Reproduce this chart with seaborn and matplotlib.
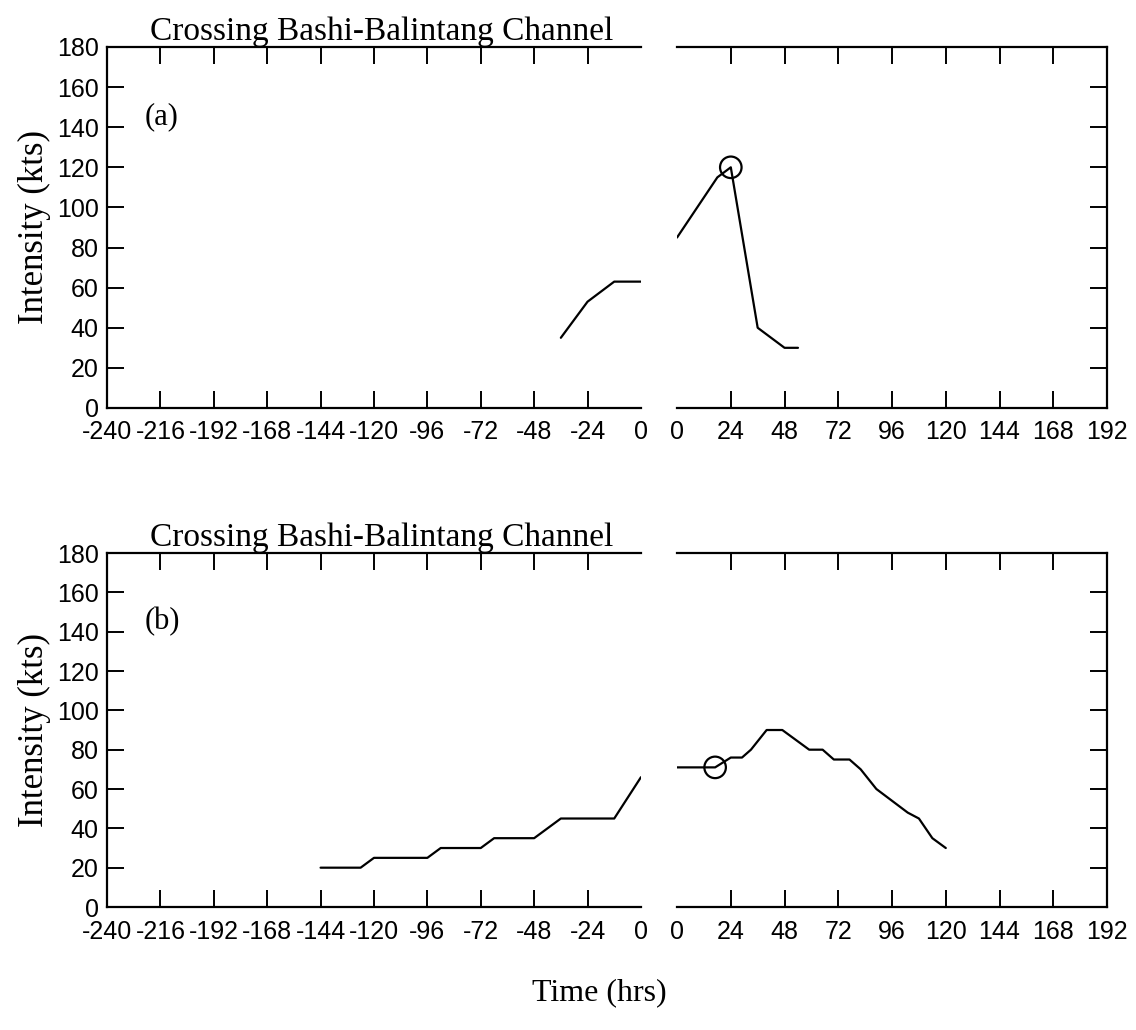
import matplotlib
matplotlib.use("Agg")
import matplotlib.pyplot as plt
import seaborn as sns

# ---- data ----
a_before_t = [-36, -24, -18, -12, -6, 0]
a_before_v = [35, 53, 58, 63, 63, 63]
a_after_t = [0, 6, 12, 18, 24, 36, 48, 54]
a_after_v = [85, 95, 105, 115, 120, 40, 30, 30]
a_circle_t = [24]
a_circle_v = [120]

b_before_t = [-144, -126, -120, -96, -90, -72, -66, -48, -36, -12, 0]
b_before_v = [20, 20, 25, 25, 30, 30, 35, 35, 45, 45, 66]
b_after_t = [0, 17, 24, 29, 33, 40, 47, 59, 65, 70, 77, 82, 89, 103, 108, 114, 120]
b_after_v = [71, 71, 76, 76, 80, 90, 90, 80, 80, 75, 75, 70, 60, 48, 45, 35, 30]
b_circle_t = [17]
b_circle_v = [71]

left_ticks = list(range(-240, 1, 24))
right_ticks = list(range(0, 193, 24))
y_ticks = list(range(0, 181, 20))
title_text = "Crossing Bashi-Balintang Channel"
panel_labels = ["(a)", "(b)"]

sns.set_style("ticks")
plt.rcParams['font.family'] = ['Liberation Sans', 'DejaVu Sans']
plt.rcParams['text.color'] = 'black'
plt.rcParams['axes.labelcolor'] = 'black'
plt.rcParams['xtick.color'] = 'black'
plt.rcParams['ytick.color'] = 'black'
plt.rcParams['axes.edgecolor'] = 'black'
serif = ['Liberation Serif', 'DejaVu Serif']

fig = plt.figure(figsize=(11.36, 10.30), dpi=100)

rows = [
    (0.6039, 0.3505, a_before_t, a_before_v, a_after_t, a_after_v, a_circle_t, a_circle_v, panel_labels[0]),
    (0.1194, 0.3437, b_before_t, b_before_v, b_after_t, b_after_v, b_circle_t, b_circle_v, panel_labels[1]),
]

lw = 1.6
for bottom, height, bt, bv, at, av, ct, cv, plab in rows:
    axL = fig.add_axes([0.0942, bottom, 0.470, height])
    axR = fig.add_axes([0.596, bottom, 0.3785, height])

    sns.lineplot(x=bt, y=bv, ax=axL, color='black', linewidth=lw, estimator=None, sort=False)
    sns.lineplot(x=at, y=av, ax=axR, color='black', linewidth=lw, estimator=None, sort=False)
    sns.scatterplot(x=ct, y=cv, ax=axR, marker='o', s=240, facecolors='none',
                    edgecolor='black', linewidth=1.6, zorder=5)

    for ax in (axL, axR):
        ax.set_ylim(0, 180)
        ax.set_yticks(y_ticks)
        ax.set_xlabel("")
        ax.set_ylabel("")
        for s in ax.spines.values():
            s.set_linewidth(1.6)
            s.set_color('black')
        ax.tick_params(axis='both', direction='in', length=12, width=1.4,
                       labelsize=18, colors='black')
        ax.tick_params(axis='x', pad=9)
        ax.tick_params(axis='y', pad=6)

    axL.set_xlim(-240, 0)
    axL.set_xticks(left_ticks)
    axL.set_xticklabels([str(t) for t in left_ticks])
    axL.spines['right'].set_visible(False)
    axL.tick_params(axis='x', top=True, bottom=True)
    axL.tick_params(axis='y', left=True, right=False)
    ticks = axL.xaxis.get_major_ticks()
    ticks[-1].tick1line.set_visible(False)
    ticks[-1].tick2line.set_visible(False)
    axL.set_yticklabels([str(v) for v in y_ticks])

    axR.set_xlim(0, 192)
    axR.set_xticks(right_ticks)
    axR.set_xticklabels([str(t) for t in right_ticks])
    axR.spines['left'].set_visible(False)
    axR.tick_params(axis='x', top=True, bottom=True)
    axR.tick_params(axis='y', left=False, right=True, labelleft=False, labelright=False)
    ticks = axR.xaxis.get_major_ticks()
    ticks[0].tick1line.set_visible(False)
    ticks[0].tick2line.set_visible(False)

    axL.set_title(title_text, fontsize=24, family=serif, pad=5, x=0.515, color='black')
    axL.set_ylabel("Intensity (kts)", fontsize=25, family=serif, labelpad=4, color='black')
    axL.text(0.07, 0.806, plab, transform=axL.transAxes, fontsize=22, family=serif,
             ha='left', va='center', color='black')

fig.text(0.528, 0.036, "Time (hrs)", fontsize=23, family=serif, ha='center', va='center',
         color='black')

fig.savefig("out.png", dpi=100)
